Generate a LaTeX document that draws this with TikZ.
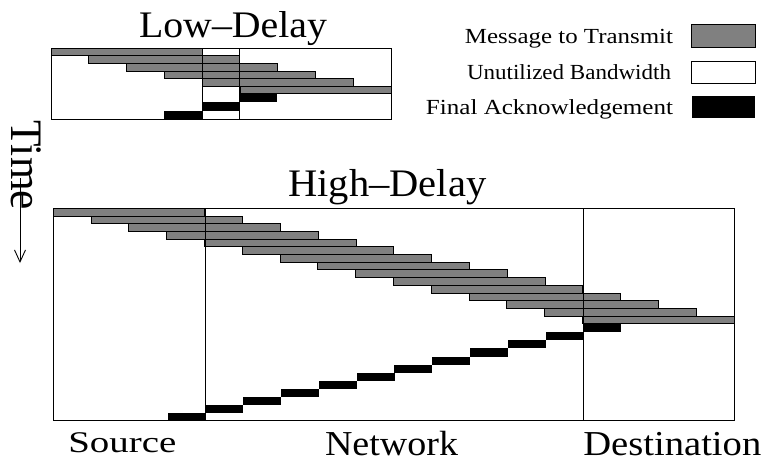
\documentclass[tikz,border=0pt]{standalone}
\usepackage{fontspec}
\setmainfont{Liberation Serif}
\usetikzlibrary{arrows.meta}
\definecolor{msggray}{RGB}{128,128,128}
\newcommand{\fs}[1]{\fontsize{#1}{#1}\selectfont}
\begin{document}
\begin{tikzpicture}[x=1pt,y=-1pt,
  msg/.style={fill=msggray,draw=black,line width=0.9pt},
  ackbox/.style={fill=black},
  framebox/.style={draw=black,line width=0.9pt},
  lbl/.style={inner sep=0pt,outer sep=0pt}]
\useasboundingbox (0,0) rectangle (766,459);
\fill[white] (0,0) rectangle (766,459);

% ---------- Low-Delay panel ----------
\foreach \i in {0,...,5}
  \draw[msg] ({51+37.8*\i},{48.3+7.55*\i}) rectangle ++(151,7.55);
\foreach \k in {0,...,2}
  \fill[ackbox] ({239.3-37.8*\k},{93.6+8.57*\k}) rectangle ++(37.8,8.57);
\draw[framebox] (51,48.3) rectangle (391,119.3);
\draw[framebox] (202,48.3) -- (202,119.3);
\draw[framebox] (239.3,48.3) -- (239.3,119.3);
\node[lbl,anchor=base west] (lowt) at (139,37.3) {\fs{37.5}\resizebox{188pt}{\height}{Low–Delay}};

% ---------- High-Delay panel ----------
\foreach \i in {0,...,14}
  \draw[msg] ({53.3+37.8*\i},{208.3+7.7*\i}) rectangle ++(151.5,7.7);
\foreach \j in {0,...,11}
  \fill[ackbox] ({583.3-37.8*\j},{324.2+8.08*\j}) rectangle ++(38,8.08);
\draw[framebox] (53.3,208.3) rectangle (734.3,420);
\draw[framebox] (205.3,208.3) -- (205.3,420);
\draw[framebox] (583.3,208.3) -- (583.3,420);
\node[lbl,anchor=base west] (hight) at (288.3,196) {\fs{39}\resizebox{198pt}{\height}{High–Delay}};

% ---------- axis labels ----------
\node[lbl,anchor=base west] (src) at (68.3,452.3) {\fs{30}\resizebox{108pt}{\height}{Source}};
\node[lbl,anchor=base west] (net) at (325,455) {\fs{35}\resizebox{133pt}{\height}{Network}};
\node[lbl,anchor=base west] (dst) at (583.3,455) {\fs{35}\resizebox{178pt}{\height}{Destination}};

% ---------- time axis ----------
\node[lbl,anchor=base west,rotate=-90] (time) at (12,120) {\fs{45}\resizebox{90pt}{\height}{Time}};
\coordinate (ta) at (20,178);
\coordinate (tb) at (20,263);
\draw[line width=0.9pt,-{Straight Barb[length=12pt,width=11pt,line width=0.9pt]}] (ta) -- (tb);

% ---------- legend ----------
\draw[msg] (691.7,24) rectangle (755,47.3);
\draw[framebox,fill=white] (691.7,61.7) rectangle (755,83.3);
\fill[ackbox] (691.7,96) rectangle (755,118.3);
\node[lbl,anchor=base east] (lg1) at (673,43.3) {\fs{21.5}\resizebox{208pt}{\height}{Message to Transmit}};
\node[lbl,anchor=base east] (lg2) at (671,79) {\fs{21.5}\resizebox{204pt}{\height}{Unutilized Bandwidth}};
\node[lbl,anchor=base east] (lg3) at (673,114) {\fs{21.5}\resizebox{247pt}{\height}{Final Acknowledgement}};
\end{tikzpicture}
\end{document}
